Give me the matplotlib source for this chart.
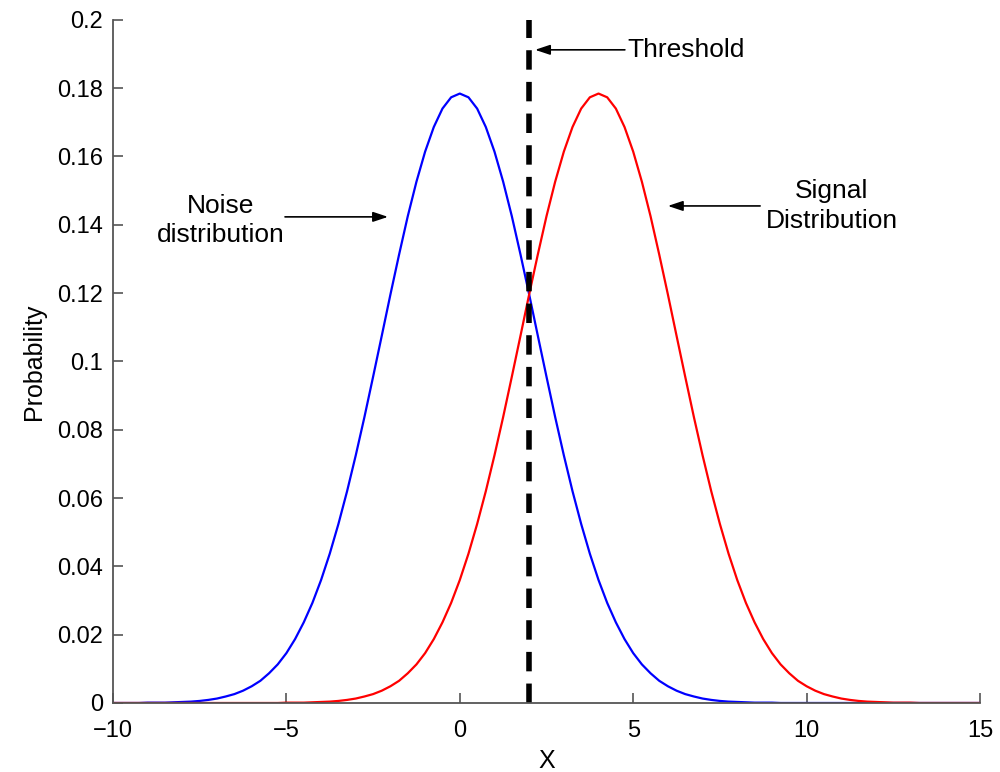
import numpy as np
import matplotlib
matplotlib.use('Agg')
import matplotlib.pyplot as plt

plt.rcParams['font.family'] = ['Liberation Sans', 'DejaVu Sans']

# sample positions on the X axis (every 0.25 from -10 to 15)
x = np.arange(-10, 15.001, 0.25)

# values
noise_y = [0.0, 0.0, 0.0, 0.0,
           0.0001, 0.0001, 0.0001, 0.0002, 0.0003, 0.0004, 0.0006, 0.0009, 0.0013, 0.0019,
           0.0026, 0.0036, 0.0049, 0.0065, 0.0087, 0.0113, 0.0146, 0.0187, 0.0236, 0.0293,
           0.0360, 0.0437, 0.0524, 0.0620, 0.0725, 0.0837, 0.0955, 0.1075, 0.1196, 0.1313,
           0.1425, 0.1526, 0.1614, 0.1686, 0.1740, 0.1773, 0.1784,
           0.1773, 0.1740, 0.1686, 0.1614, 0.1526, 0.1425, 0.1313, 0.1196, 0.1075, 0.0955,
           0.0837, 0.0725, 0.0620, 0.0524, 0.0437, 0.0360, 0.0293, 0.0236, 0.0187, 0.0146,
           0.0113, 0.0087, 0.0065, 0.0049, 0.0036, 0.0026, 0.0019, 0.0013, 0.0009, 0.0006,
           0.0004, 0.0003, 0.0002, 0.0001, 0.0001, 0.0001,
           0.0, 0.0, 0.0, 0.0, 0.0, 0.0, 0.0, 0.0, 0.0, 0.0, 0.0, 0.0,
           0.0, 0.0, 0.0, 0.0, 0.0, 0.0, 0.0, 0.0, 0.0, 0.0, 0.0, 0.0]

signal_y = [0.0, 0.0, 0.0, 0.0, 0.0, 0.0, 0.0, 0.0, 0.0, 0.0,
            0.0, 0.0, 0.0, 0.0, 0.0, 0.0, 0.0, 0.0, 0.0, 0.0,
            0.0001, 0.0001, 0.0001, 0.0002, 0.0003, 0.0004, 0.0006, 0.0009, 0.0013, 0.0019,
            0.0026, 0.0036, 0.0049, 0.0065, 0.0087, 0.0113, 0.0146, 0.0187, 0.0236, 0.0293,
            0.0360, 0.0437, 0.0524, 0.0620, 0.0725, 0.0837, 0.0955, 0.1075, 0.1196, 0.1313,
            0.1425, 0.1526, 0.1614, 0.1686, 0.1740, 0.1773, 0.1784,
            0.1773, 0.1740, 0.1686, 0.1614, 0.1526, 0.1425, 0.1313, 0.1196, 0.1075, 0.0955,
            0.0837, 0.0725, 0.0620, 0.0524, 0.0437, 0.0360, 0.0293, 0.0236, 0.0187, 0.0146,
            0.0113, 0.0087, 0.0065, 0.0049, 0.0036, 0.0026, 0.0019, 0.0013, 0.0009, 0.0006,
            0.0004, 0.0003, 0.0002, 0.0001, 0.0001, 0.0001,
            0.0, 0.0, 0.0, 0.0, 0.0, 0.0, 0.0, 0.0]

threshold = 2

fig = plt.figure(figsize=(10, 7.72), dpi=100)
ax = fig.add_axes([0.113, 0.0894, 0.867, 0.885])

ax.plot(x, noise_y, color='#0000ff', lw=1.6)
ax.plot(x, signal_y, color='#ff0000', lw=1.6)
ax.plot([threshold, threshold], [0, 0.2], color='k', lw=4, linestyle=(0, (3.5, 2.2)))

ax.set_xlim(-10, 15)
ax.set_ylim(0, 0.2)
ax.set_xticks([-10, -5, 0, 5, 10, 15])
ax.set_xticklabels(['\u221210', '\u22125', '0', '5', '10', '15'])
ax.set_yticks(np.arange(0, 0.2001, 0.02))
ax.set_yticklabels(['0', '0.02', '0.04', '0.06', '0.08', '0.1', '0.12', '0.14', '0.16', '0.18', '0.2'])

for s in ['top', 'right']:
    ax.spines[s].set_visible(False)
for s in ['left', 'bottom']:
    ax.spines[s].set_color('#555555')
    ax.spines[s].set_linewidth(1.3)
ax.tick_params(direction='in', length=7, width=1.2, color='#555555', labelsize=17)
ax.tick_params(axis='x', pad=12)
ax.tick_params(axis='y', pad=7)

ax.set_xlabel('X', fontsize=18, labelpad=5)
ax.set_ylabel('Probability', fontsize=18, labelpad=8)

arrow = dict(arrowstyle='-|>,head_width=0.3,head_length=0.9', color='k', lw=1.2, shrinkA=0, shrinkB=0)
ax.annotate('', xy=(2.17, 0.1912), xytext=(4.76, 0.1912), arrowprops=arrow)
ax.text(4.82, 0.1912, 'Threshold', fontsize=19, ha='left', va='center')

ax.annotate('', xy=(-2.07, 0.1423), xytext=(-5.04, 0.1423), arrowprops=arrow)
ax.text(-6.89, 0.1412, 'Noise\ndistribution', fontsize=19, ha='center', va='center', linespacing=1.3)

ax.annotate('', xy=(6.0, 0.1455), xytext=(8.66, 0.1455), arrowprops=arrow)
ax.text(10.73, 0.1455, 'Signal\nDistribution', fontsize=19, ha='center', va='center', linespacing=1.3)

fig.savefig('out.png', dpi=100)
